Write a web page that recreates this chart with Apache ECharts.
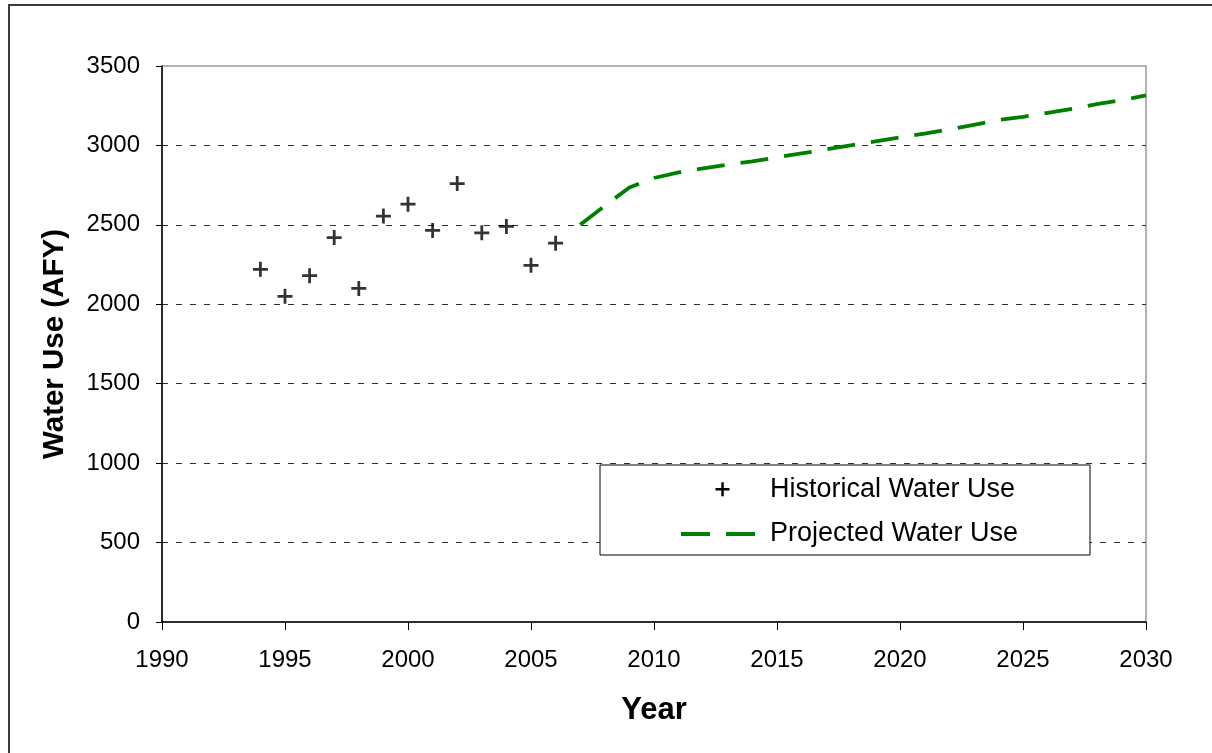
<!DOCTYPE html>
<html>
<head>
<meta charset="utf-8">
<title>Water Use</title>
<script src="https://cdn.jsdelivr.net/npm/echarts@6/dist/echarts.min.js"></script>
<style>
  html, body { margin: 0; padding: 0; background: #ffffff; }
  #chart { width: 1212px; height: 753px; }
</style>
</head>
<body>
<div id="chart"></div>
<script>
// Historical annual water use (AFY)
const histYears  = [1994, 1995, 1996, 1997, 1998, 1999, 2000, 2001, 2002, 2003, 2004, 2005, 2006];
const histValues = [2220, 2050, 2180, 2420, 2100, 2555, 2630, 2465, 2760, 2450, 2490, 2245, 2385];

// Projected water use (AFY)
const projYears  = [2007, 2008, 2009, 2010, 2011, 2012, 2013, 2014, 2015, 2016, 2017, 2018,
                    2019, 2020, 2021, 2022, 2023, 2024, 2025, 2026, 2027, 2028, 2029, 2030];
const projValues = [2500, 2620, 2735, 2795, 2830, 2855, 2880, 2900, 2925, 2950, 2975, 3000,
                    3025, 3050, 3075, 3100, 3130, 3160, 3180, 3205, 3230, 3260, 3285, 3315];

const seriesNames = ['Historical Water Use', 'Projected Water Use'];
const xAxisTitle = 'Year';
const yAxisTitle = 'Water Use (AFY)';

const FONT = '"Liberation Sans", Arial, Helvetica, sans-serif';
const GREEN = '#008000';
const PLUS = 'path://M5.7,0H8.3V5.7H14V8.3H8.3V14H5.7V8.3H0V5.7H5.7Z';

const chart = echarts.init(document.getElementById('chart'), null, { renderer: 'canvas' });

chart.setOption({
  backgroundColor: '#ffffff',
  animation: false,
  grid: {
    left: 162, right: 66, top: 66, bottom: 131,
    show: true, borderColor: '#9a9a9a', borderWidth: 1.5, backgroundColor: 'transparent'
  },
  xAxis: {
    type: 'value', min: 1990, max: 2030, interval: 5,
    name: xAxisTitle, nameLocation: 'middle', nameGap: 73,
    nameTextStyle: { fontFamily: FONT, fontSize: 31, fontWeight: 'bold', color: '#000' },
    axisLine: { show: true, lineStyle: { color: '#000', width: 1.5 } },
    axisTick: { show: true, inside: false, length: 8, lineStyle: { color: '#000', width: 1 } },
    axisLabel: { margin: 26, fontFamily: FONT, fontSize: 24, color: '#000',
                 formatter: v => String(v) },
    splitLine: { show: false }
  },
  yAxis: {
    type: 'value', min: 0, max: 3500, interval: 500,
    name: yAxisTitle, nameLocation: 'middle', nameGap: 92,
    nameTextStyle: { fontFamily: FONT, fontSize: 29.5, fontWeight: 'bold', color: '#000' },
    axisLine: { show: true, lineStyle: { color: '#000', width: 1.5 } },
    axisTick: { show: true, inside: false, length: 6, lineStyle: { color: '#000', width: 1 } },
    axisLabel: { margin: 22, fontFamily: FONT, fontSize: 24, color: '#000',
                 formatter: v => String(v) },
    splitLine: {
      show: true, showMinLine: false, showMaxLine: false,
      lineStyle: { color: '#303030', width: 1, type: [6, 8] }
    }
  },
  series: [
    {
      name: seriesNames[0],
      type: 'scatter',
      data: histYears.map((y, i) => [y, histValues[i]]),
      symbol: PLUS,
      symbolSize: 15,
      itemStyle: { color: '#000' },
      z: 3
    },
    {
      name: seriesNames[1],
      type: 'line',
      data: projYears.map((y, i) => [y, projValues[i]]),
      showSymbol: false,
      symbol: 'none',
      lineStyle: { color: GREEN, width: 3.8, type: [28, 16], cap: 'butt' },
      z: 4
    }
  ],
  graphic: [
    // outer chart frame
    { type: 'rect', silent: true, z: 100,
      shape: { x: 9, y: 5, width: 1400, height: 1000 },
      style: { fill: 'none', stroke: '#3a3a3a', lineWidth: 2 } },
    // legend box
    { type: 'rect', z: 50,
      shape: { x: 600, y: 465, width: 490, height: 90 },
      style: { fill: '#ffffff', stroke: '#000', lineWidth: 1 } },
    // legend marker: plus sign
    { type: 'rect', z: 51, shape: { x: 715.5, y: 488, width: 14, height: 2.5 }, style: { fill: '#000' } },
    { type: 'rect', z: 51, shape: { x: 721.3, y: 482.3, width: 2.5, height: 14 }, style: { fill: '#000' } },
    { type: 'text', z: 51,
      style: { x: 770, y: 490, text: seriesNames[0], fill: '#000',
               font: '27px ' + FONT, textVerticalAlign: 'middle' } },
    // legend marker: dashed green line
    { type: 'line', z: 51,
      shape: { x1: 681, y1: 534, x2: 755, y2: 534 },
      style: { stroke: GREEN, lineWidth: 4, lineDash: [29, 16] } },
    { type: 'text', z: 51,
      style: { x: 770, y: 534, text: seriesNames[1], fill: '#000',
               font: '27px ' + FONT, textVerticalAlign: 'middle' } }
  ]
});
</script>
</body>
</html>
